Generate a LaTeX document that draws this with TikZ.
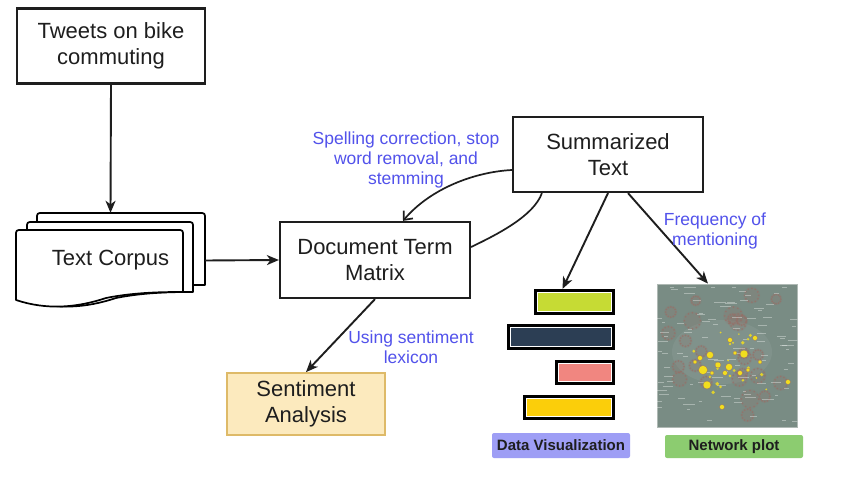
\documentclass[tikz,border=0pt]{standalone}
\usepackage{fontspec}
\setmainfont{Liberation Sans}
\usetikzlibrary{arrows.meta,calc}

\definecolor{lblue}{RGB}{82,82,235}
\definecolor{ink}{RGB}{30,30,30}
\definecolor{sentfill}{RGB}{252,234,190}
\definecolor{sentdraw}{RGB}{222,186,104}
\definecolor{dvfill}{RGB}{158,158,245}
\definecolor{npfill}{RGB}{140,204,112}
\definecolor{netbg}{RGB}{121,140,132}
\definecolor{netedge}{RGB}{175,185,180}
\definecolor{clusterc}{RGB}{150,112,104}
\definecolor{nodey}{RGB}{242,222,30}
\definecolor{barA}{RGB}{198,219,52}
\definecolor{barB}{RGB}{44,62,84}
\definecolor{barC}{RGB}{241,134,128}
\definecolor{barD}{RGB}{251,206,10}

% one page of the document stack: #1,#2 top-left, #3 width, #4 height at the right edge
\newcommand\docpage[4]{%
  \draw[line width=1.7pt, fill=white, line join=round]
    (#1,#2+#4+8) -- (#1,#2+6) .. controls (#1,#2) .. (#1+6,#2)
    -- (#1+#3-6,#2) .. controls (#1+#3,#2) .. (#1+#3,#2+6)
    -- (#1+#3,#2+#4)
    .. controls (#1+#3-17,#2+#4) and (#1+#3-47,#2+#4) .. (#1+#3-77,#2+#4+6)
    .. controls (#1+#3-107,#2+#4+16) and (#1+#3-137,#2+#4+18) .. (#1,#2+#4+8)
    -- cycle;}

\begin{document}
\begin{tikzpicture}[x=1pt,y=-1pt,
  box/.style={draw=ink, line width=2.2pt, fill=white, align=center, inner sep=0pt,
    text=ink, font=\fontsize{22}{26.5}\selectfont},
  lbl/.style={text=lblue, align=center, inner sep=0pt, font=\fontsize{17.5}{20}\selectfont},
  arr/.style={draw=ink, line width=1.9pt, -{Stealth[length=12pt,width=10pt,inset=3.5pt]}},
  curve/.style={draw=ink, line width=1.7pt},
  barbox/.style={draw=black, line width=3.2pt, fill=white, inner sep=0pt},
  tag/.style={inner sep=0pt, rounded corners=2pt, text=ink,
    font=\bfseries\fontsize{15}{15}\selectfont}]

\useasboundingbox[fill=white] (0,0) rectangle (851,489);

% source box
\node[box, minimum width=188pt, minimum height=75pt] (tweets) at (111,46) {Tweets on bike\\commuting};

% stacked documents of the corpus
\docpage{37}{213}{168}{72}
\docpage{27}{222}{166}{70}
\docpage{16}{230}{167}{62}
\node[inner sep=0pt, minimum width=189pt, minimum height=95pt, text=ink,
  font=\fontsize{22}{26.5}\selectfont] (corpus) at (110.5,260.5) {Text Corpus};

% processing boxes
\node[box, minimum width=190pt, minimum height=76pt] (dtm) at (375,260) {Document Term\\Matrix};
\node[box, minimum width=190pt, minimum height=75pt] (sum) at (608,154.5) {Summarized\\Text};
\node[box, draw=sentdraw, fill=sentfill, line width=1.8pt, minimum width=158pt,
  minimum height=62pt] (sent) at (306,404) {Sentiment\\Analysis};

% bar chart
\node[barbox, minimum width=78pt, minimum height=23pt] (bar1) at (574.5,302) {};
\node[barbox, minimum width=105pt, minimum height=23pt] (bar2) at (561,337) {};
\node[barbox, minimum width=57pt, minimum height=22pt] (bar3) at (585,372.5) {};
\node[barbox, minimum width=89pt, minimum height=22pt] (bar4) at (569,407.5) {};
\foreach \b/\c in {bar1/barA, bar2/barB, bar3/barC, bar4/barD}{
  \fill[\c] ($(\b.south west)+(4.5,-4.5)$) rectangle ($(\b.north east)+(-4.5,4.5)$);
}

% network plot
\node[draw=netedge, line width=0.8pt, fill=netbg, minimum width=140pt, minimum height=143pt,
  inner sep=0pt] (net) at (727,355.5) {};
\begin{scope}
  \clip (net.south west) rectangle (net.north east);
  \fill[white, opacity=0.06] (722,352) ellipse (50 and 32);
  \pgfmathsetseed{11}
  \foreach \k in {1,...,26}{
    \pgfmathsetmacro\cx{662+130*rnd}
    \pgfmathsetmacro\cy{290+132*rnd}
    \pgfmathsetmacro\rr{4+5*rnd}
    \fill[clusterc, opacity=0.18] (\cx,\cy) circle (\rr+1.5);
    \foreach \a in {0,30,...,330}{
      \fill[clusterc, opacity=0.75] ($(\cx,\cy)+(\a:\rr)$) circle (1);
    }
  }
  \foreach \k in {1,...,100}{
    \pgfmathsetmacro\tx{656+138*rnd}
    \pgfmathsetmacro\ty{287+138*rnd}
    \pgfmathsetmacro\tl{3+9*rnd}
    \draw[white, opacity=0.35, line width=0.8pt] (\tx,\ty) -- ++(\tl,0);
  }
  \foreach \k in {1,...,22}{
    \pgfmathsetmacro\yx{692+75*rnd}
    \pgfmathsetmacro\yy{332+62*rnd}
    \pgfmathsetmacro\yr{0.8+1.2*rnd}
    \fill[nodey, opacity=0.85] (\yx,\yy) circle (\yr);
  }
  \foreach \x/\y/\r in {710/355/3.5, 744/354/4, 703/370/4.5, 707/385/4, 729/367/3.5,
      718/365/3, 730/340/2.5, 755/338/2.5, 722/407/2.5, 788/382/2.5, 740/373/2.5,
      725/373/2.5, 700/358/2.5, 712/373/2, 735/353/2, 748/370/2, 760/362/2, 695/362/2}{
    \filldraw[fill=nodey, draw=clusterc, line width=0.3pt] (\x,\y) circle (\r);
  }
\end{scope}

% captions under the outputs
\node[tag, fill=dvfill, minimum width=138pt, minimum height=25pt] (dvtag) at (561,445.5) {Data Visualization};
\node[tag, fill=npfill, minimum width=138pt, minimum height=23pt] (nptag) at (734,446.5) {Network plot};

% connectors
\draw[arr] (tweets.south) -- (corpus.north);
\draw[arr] (corpus.east) -- (dtm.west);
\draw[arr] (dtm.south) -- (sent.north);
\draw[arr] (sum.south) -- ($(bar1.north)+(-12,0)$);
\draw[arr] ($(sum.south)+(20,0)$) -- ($(net.north)+(-19,0)$);
\draw[curve, -{Straight Barb[length=7pt,width=12pt]}]
  ($(sum.west)+(0,15.5)$) .. controls ($(sum.west)+(-38,17.5)$) and ($(dtm.north)+(55,-32)$) .. ($(dtm.north)+(28,0)$);
\draw[curve]
  ($(sum.south west)+(30,0)$) .. controls ($(sum.south west)+(22,23)$) and ($(dtm.east)+(25,-25)$) .. ($(dtm.east)+(0,-13)$);

% edge labels
\node[lbl] (lspell) at (406,160) {Spelling correction, stop\\word removal, and\\stemming};
\node[lbl] (lfreq) at (715,231) {Frequency of\\mentioning};
\node[lbl] (llex) at (411,347) {Using sentiment\\lexicon};

\end{tikzpicture}
\end{document}
